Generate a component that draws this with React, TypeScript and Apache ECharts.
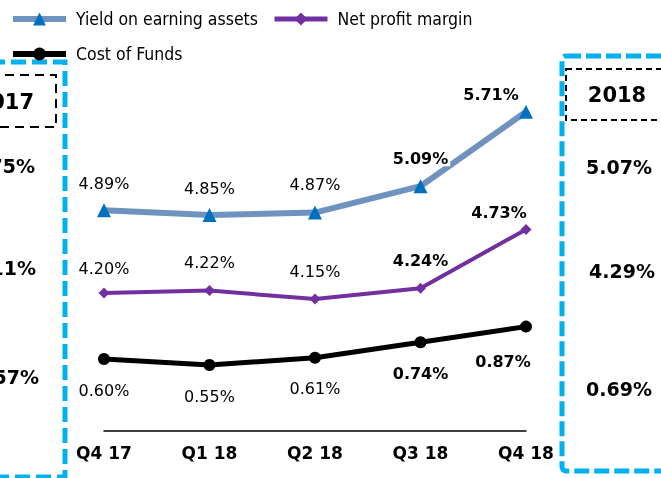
import React, { useEffect, useRef } from "react";
import * as echarts from "echarts";

const categories = ["Q4 17", "Q1 18", "Q2 18", "Q3 18", "Q4 18"];
const yieldValues = [4.89, 4.85, 4.87, 5.09, 5.71];
const npmValues = [4.2, 4.22, 4.15, 4.24, 4.73];
const cofValues = [0.6, 0.55, 0.61, 0.74, 0.87];
const seriesNames = ["Yield on earning assets", "Net profit margin", "Cost of Funds"];
const year2017Label = "2017";
const year2018Label = "2018";
const fy2017Values = ["4.75%", "4.11%", "0.57%"];
const fy2018Values = ["5.07%", "4.29%", "0.69%"];

// label placement (style only)
const yieldOffsets = [[0, -27], [0, -27], [0, -28], [0, -28], [-35, -17]];
const npmOffsets = [[0, -25], [0, -28], [0, -28], [0, -28], [-27, -17]];
const cofOffsets = [[0, 31], [0, 31], [0, 31], [0, 31], [-23, 35]];
const boldFlags = [false, false, false, true, true];

const LABEL_FONT = "DejaVu Sans";
const LEGEND_FONT = "'DejaVu Sans Condensed', 'DejaVu Sans'";

function makeData(values: number[], offsets: number[][], extra?: (i: number) => any) {
  return values.map((v, i) => ({
    value: v,
    label: {
      offset: offsets[i],
      fontWeight: boldFlags[i] ? "bold" : "normal",
      ...(extra ? extra(i) : {}),
    },
  }));
}

const labelBase = {
  show: true,
  position: "inside",
  color: "#000",
  fontSize: 16,
  fontFamily: LABEL_FONT,
  formatter: (p: any) => Number(p.value).toFixed(2) + "%",
};

export default function App() {
  const ref = useRef<HTMLDivElement>(null);
  useEffect(() => {
    if (!ref.current) return;
    const chart = echarts.init(ref.current, undefined, { renderer: "svg" });
    const blue = "#00b0f0";
    const sideText = (text: string, x: number, y: number, align: string) => ({
      type: "text",
      x,
      y,
      style: {
        text,
        fill: "#000",
        font: `bold 19px ${LABEL_FONT}`,
        textAlign: align,
        textVerticalAlign: "middle",
      },
    });
    const legendText = { fontSize: 17.5, color: "#000", fontFamily: LEGEND_FONT, padding: [0, 0, 0, 5] };
    chart.setOption({
      animation: false,
      legend: [
        {
          data: [
            { name: seriesNames[0], lineStyle: { width: 6 }, itemStyle: { color: "#0070c0" } },
            { name: seriesNames[1], lineStyle: { width: 5 } },
          ],
          left: 5,
          top: 5,
          itemWidth: 53,
          itemHeight: 16,
          itemGap: 14,
          textStyle: legendText,
        },
        {
          data: [{ name: seriesNames[2], lineStyle: { width: 6 } }],
          left: 5,
          top: 40,
          itemWidth: 53,
          itemHeight: 16,
          textStyle: legendText,
        },
      ],
      grid: { left: 104, right: 135, top: 71, bottom: 47, containLabel: false },
      xAxis: {
        type: "category",
        data: categories,
        boundaryGap: false,
        axisLine: { onZero: false, lineStyle: { color: "#000", width: 1.5 } },
        axisTick: { show: false },
        axisLabel: {
          color: "#000",
          fontSize: 17,
          fontWeight: "bold",
          fontFamily: LABEL_FONT,
          margin: 13,
        },
        splitLine: { show: false },
      },
      yAxis: [
        { type: "value", min: 3.05, max: 6.05, show: false, splitLine: { show: false } },
        { type: "value", min: 0, max: 3, show: false, splitLine: { show: false } },
      ],
      series: [
        {
          name: seriesNames[0],
          type: "line",
          yAxisIndex: 0,
          symbol: "triangle",
          symbolSize: 14,
          lineStyle: { color: "#7092be", width: 6 },
          itemStyle: { color: "#0070c0" },
          label: labelBase,
          data: makeData(yieldValues, yieldOffsets, (i) =>
            i === 3 ? { backgroundColor: "#fff", padding: [0, 2] } : {}
          ),
          z: 3,
        },
        {
          name: seriesNames[1],
          type: "line",
          yAxisIndex: 0,
          symbol: "diamond",
          symbolSize: 11,
          lineStyle: { color: "#7030a0", width: 4 },
          itemStyle: { color: "#7030a0" },
          label: labelBase,
          data: makeData(npmValues, npmOffsets),
          z: 2,
        },
        {
          name: seriesNames[2],
          type: "line",
          yAxisIndex: 1,
          symbol: "circle",
          symbolSize: 12,
          lineStyle: { color: "#000", width: 5 },
          itemStyle: { color: "#000" },
          label: labelBase,
          data: makeData(cofValues, cofOffsets),
          z: 2,
        },
      ],
      graphic: [
        {
          type: "rect",
          shape: { x: -10, y: 62, width: 75, height: 415 },
          style: { fill: "none", stroke: blue, lineWidth: 5, lineDash: [15, 6] },
          silent: true,
        },
        {
          type: "rect",
          shape: { x: 562, y: 56, width: 130, height: 415, r: 4 },
          style: { fill: "none", stroke: blue, lineWidth: 5, lineDash: [15, 5] },
          silent: true,
        },
        {
          type: "rect",
          shape: { x: -10, y: 75, width: 66, height: 52 },
          style: { fill: "none", stroke: "#000", lineWidth: 2, lineDash: [9, 6] },
          silent: true,
        },
        {
          type: "rect",
          shape: { x: 566, y: 69, width: 120, height: 51 },
          style: { fill: "none", stroke: "#000", lineWidth: 2, lineDash: [6, 4] },
          silent: true,
        },
        {
          type: "text",
          x: 34,
          y: 102,
          style: {
            text: year2017Label,
            fill: "#000",
            font: `bold 21px ${LABEL_FONT}`,
            textAlign: "right",
            textVerticalAlign: "middle",
          },
        },
        {
          type: "text",
          x: 617,
          y: 95,
          style: {
            text: year2018Label,
            fill: "#000",
            font: `bold 21px ${LABEL_FONT}`,
            textAlign: "center",
            textVerticalAlign: "middle",
          },
        },
        sideText(fy2017Values[0], 35, 166, "right"),
        sideText(fy2017Values[1], 36, 268, "right"),
        sideText(fy2017Values[2], 39, 377, "right"),
        sideText(fy2018Values[0], 619, 167, "center"),
        sideText(fy2018Values[1], 622, 271, "center"),
        sideText(fy2018Values[2], 619, 389, "center"),
      ],
    });
    return () => chart.dispose();
  }, []);
  return <div ref={ref} style={{ width: 661, height: 478, position: "fixed", left: 0, top: 0 }} />;
}
